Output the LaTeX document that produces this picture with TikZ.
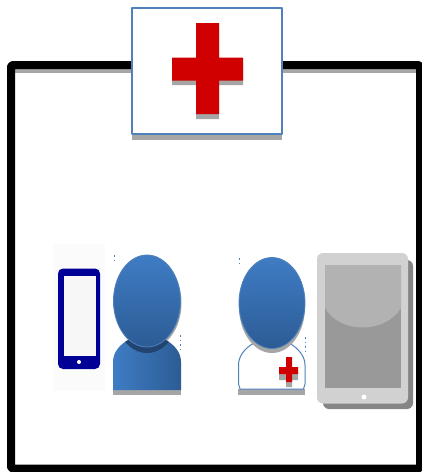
\documentclass[tikz,border=0pt]{standalone}
\definecolor{blue1}{HTML}{3F7CC4}
\definecolor{blue2}{HTML}{2C5C95}
\definecolor{blue3}{HTML}{4F81BD}
\definecolor{crossred}{HTML}{D00000}
\definecolor{phoneblue}{HTML}{000096}
\begin{document}
\begin{tikzpicture}[x=1pt,y=-1pt,line join=round,
  shade1/.style={fill=black!35,draw=none},
  bluebody/.style={left color=blue1,right color=blue2,draw=none},
  headshade/.style={top color=blue1,bottom color=blue2,draw=blue3,line width=0.8pt},
  redc/.style={fill=crossred,draw=none},
  marks/.style={blue3,line width=0.7pt,dash pattern=on 1.5pt off 3pt}]
\useasboundingbox (0,0) rectangle (422,472);
\fill[white] (0,0) rectangle (422,472);
% frame
\fill[black!35] (15,69) rectangle (416,73);
\draw[line width=8pt,rounded corners=2pt] (11,468.5) -- (11,65) -- (420,65) -- (420,468.5) -- cycle;
% top box
\fill[black!35] (132,134) rectangle (282,140);
\draw[blue3,fill=white,line width=1.3pt] (132,8) rectangle (282,134);
\fill[shade1] (172,62) -- (196,62) -- (196,29) -- (219,29) -- (219,62) -- (243,62) -- (243,85) -- (219,85) -- (219,119) -- (196,119) -- (196,85) -- (172,85) -- cycle;
\fill[redc] (172,57.5) -- (196,57.5) -- (196,23) -- (219,23) -- (219,57.5) -- (243,57.5) -- (243,80.5) -- (219,80.5) -- (219,114) -- (196,114) -- (196,80.5) -- (172,80.5) -- cycle;
% phone
\fill[black!1.5] (53,244) rectangle (105,391);
\fill[phoneblue,rounded corners=5pt] (58,268.5) rectangle (100,369);
\fill[black!3] (63.5,276) rectangle (95.5,355.5);
\fill[white] (79,362) circle (2pt);
% patient
\fill[shade1] (113,388) rectangle (181,395);
\path[bluebody] (113,390) -- (113,362) .. controls (113,352) and (120,344) .. (130,339) -- (164,339) .. controls (174,344) and (181,352) .. (181,362) -- (181,390) -- cycle;
\fill[black!35] (148,303) ellipse (33.5pt and 46pt);
\begin{scope}
\clip (113,390) -- (113,362) .. controls (113,352) and (120,344) .. (130,339) -- (164,339) .. controls (174,344) and (181,352) .. (181,362) -- (181,390) -- cycle;
\fill[blue2!75!black] (147,307) ellipse (33.5pt and 46pt);
\end{scope}
\draw[headshade] (147,301) ellipse (33.5pt and 46pt);
\draw[marks] (114,255) -- (114,263);
\draw[marks] (180.5,335) -- (180.5,353);
% doctor
\fill[shade1] (238,389) rectangle (305,395);
\draw[blue3,fill=white,line width=1pt] (240,389) -- (238.5,384) -- (238.5,365) .. controls (238.5,356) and (245,348) .. (254,343) -- (289,343) .. controls (298,348) and (305,356) .. (305,365) -- (305,384) -- (303.5,389) -- cycle;
\fill[black!35] (272,307) ellipse (33pt and 46pt);
\draw[headshade] (272,303) ellipse (33pt and 45.5pt);
\draw[marks] (239,258) -- (239,266);
\draw[marks] (305,337) -- (305,353);
\fill[shade1] (279,374) -- (286,374) -- (286,387) -- (292,387) -- (292,374) -- (298,374) -- (298,380) -- (279,380) -- cycle;
\fill[redc] (279,367) -- (286,367) -- (286,357) -- (292,357) -- (292,367) -- (298,367) -- (298,374) -- (292,374) -- (292,382) -- (286,382) -- (286,374) -- (279,374) -- cycle;
% tablet
\fill[black!48,rounded corners=6pt] (323,260) rectangle (413,409);
\fill[black!18,rounded corners=6pt] (317,253) rectangle (408,403.5);
\fill[black!40] (325,265) rectangle (401,388);
\fill[black!30] (325,265) -- (401,265) -- (401,308) .. controls (385,334) and (340,334) .. (325,308) -- cycle;
\fill[white] (364,397) circle (2.5pt);
\end{tikzpicture}
\end{document}
